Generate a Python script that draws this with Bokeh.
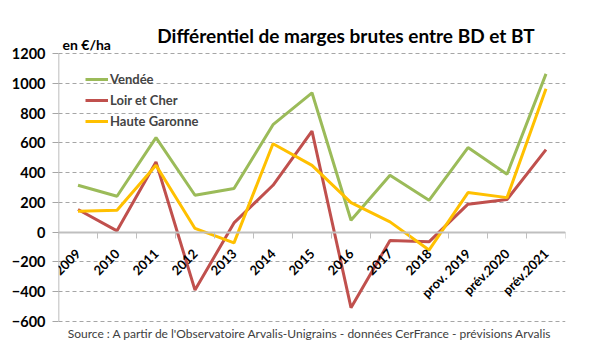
import numpy as np
from bokeh.plotting import figure
from bokeh.models import FixedTicker, Label, Legend, LegendItem, Range1d
from bokeh.embed import file_html
from bokeh.resources import INLINE

years = ["2009", "2010", "2011", "2012", "2013", "2014", "2015", "2016",
         "2017", "2018", "prov. 2019", "prév.2020", "prév.2021"]
vendee = [315, 241, 635, 248, 293, 722, 936, 80, 382, 214, 568, 389, 1063]
loir_et_cher = [152, 9, 471, -389, 62, 315, 679, -507, -56, -65, 188, 219, 554]
haute_garonne = [141, 147, 449, 25, -72, 594, 449, 198, 69, -120, 266, 232, 963]
y_ticks = [-600, -400, -200, 0, 200, 400, 600, 800, 1000, 1200]

title_text = "Différentiel de marges brutes entre BD et BT"
unit_text = "en €/ha"
source_text = ("Source : A partir de l'Observatoire Arvalis-Unigrains - données CerFrance"
               " - prévisions Arvalis")

FONT = "Lato"
W, H = 601, 357
TOP, BOTTOM = 53, 36          # pixel margins of the value area inside the frame
ymin, ymax = y_ticks[0], y_ticks[-1]
k = (H - TOP - BOTTOM) / (ymax - ymin)   # px per unit
x = np.arange(len(years)) + 0.5

p = figure(width=W, height=H, x_range=Range1d(0, len(years)),
           y_range=Range1d(ymin - BOTTOM / k, ymax + TOP / k), output_backend="svg",
           toolbar_location=None, min_border_left=58, min_border_right=36,
           min_border_top=0, min_border_bottom=0)
p.outline_line_color = None
p.background_fill_color = "white"
p.border_fill_color = "white"

# grid
p.xgrid.grid_line_color = None
p.ygrid.grid_line_color = "#A6A6A6"
p.ygrid.grid_line_dash = "4 3"
p.ygrid.grid_line_width = 1
p.ygrid.ticker = FixedTicker(ticks=y_ticks)

# y axis (line drawn as a segment so it stops at the value range)
p.yaxis.ticker = FixedTicker(ticks=y_ticks)
p.yaxis.axis_line_color = None
p.yaxis.major_tick_line_color = "#A6A6A6"
p.yaxis.major_tick_out = 6
p.yaxis.major_tick_in = 0
p.yaxis.minor_tick_line_color = None
p.yaxis.major_label_text_font = FONT
p.yaxis.major_label_text_font_style = "bold"
p.yaxis.major_label_text_font_size = "14.5px"
p.yaxis.major_label_text_color = "black"
p.yaxis.major_label_standoff = 7
p.segment(x0=[0], y0=[ymin], x1=[0], y1=[ymax], line_color="#A6A6A6", line_width=1.5)

# x axis at zero
p.xaxis.fixed_location = 0
p.xaxis.ticker = FixedTicker(ticks=list(x), minor_ticks=list(range(len(years) + 1)))
p.xaxis.major_label_overrides = {float(xi): lab for xi, lab in zip(x, years)}
p.xaxis.major_label_orientation = np.pi / 4
p.xaxis.axis_line_color = "#BFBFBF"
p.xaxis.axis_line_width = 2
p.xaxis.major_tick_line_color = None
p.xaxis.major_tick_out = 0
p.xaxis.major_tick_in = 0
p.xaxis.minor_tick_line_color = "#BFBFBF"
p.xaxis.minor_tick_line_width = 1
p.xaxis.minor_tick_out = 6
p.xaxis.minor_tick_in = 0
p.xaxis.major_label_text_font = FONT
p.xaxis.major_label_text_font_style = "bold"
p.xaxis.major_label_text_font_size = "13px"
p.xaxis.major_label_text_color = "black"
p.xaxis.major_label_standoff = 13

r1 = p.line(x, vendee, line_color="#9BBB59", line_width=3)
r2 = p.line(x, loir_et_cher, line_color="#C0504D", line_width=3)
r3 = p.line(x, haute_garonne, line_color="#FFC000", line_width=3)

legend = Legend(items=[LegendItem(label="Vendée", renderers=[r1]),
                       LegendItem(label="Loir et Cher", renderers=[r2]),
                       LegendItem(label="Haute Garonne", renderers=[r3])],
                location="top_left", border_line_color=None,
                background_fill_alpha=0, padding=0, margin=0, spacing=1,
                glyph_width=23, glyph_height=20, label_height=20,
                label_standoff=2, label_text_font=FONT,
                label_text_font_style="bold", label_text_font_size="13px")
legend.location = (27, H - (TOP + 16) - 62)
p.add_layout(legend)

p.add_layout(Label(x=len(years) / 2, y=ymax, x_offset=34, y_offset=18, text=title_text,
                   text_align="center", text_baseline="alphabetic",
                   text_font=FONT, text_font_style="bold", text_font_size="19px",
                   text_color="black"))
p.add_layout(Label(x=0, y=ymax, x_offset=4, y_offset=9, text=unit_text,
                   text_align="left", text_baseline="alphabetic",
                   text_font=FONT, text_font_style="bold", text_font_size="14px",
                   text_color="black"))
p.add_layout(Label(x=len(years) / 2, y=ymin, x_offset=-2, y_offset=-12,
                   text=source_text, text_align="center", text_baseline="alphabetic",
                   text_font=FONT, text_font_style="normal", text_font_size="12px",
                   text_color="#404040"))

open("out.html", "w").write(file_html(p, INLINE))
